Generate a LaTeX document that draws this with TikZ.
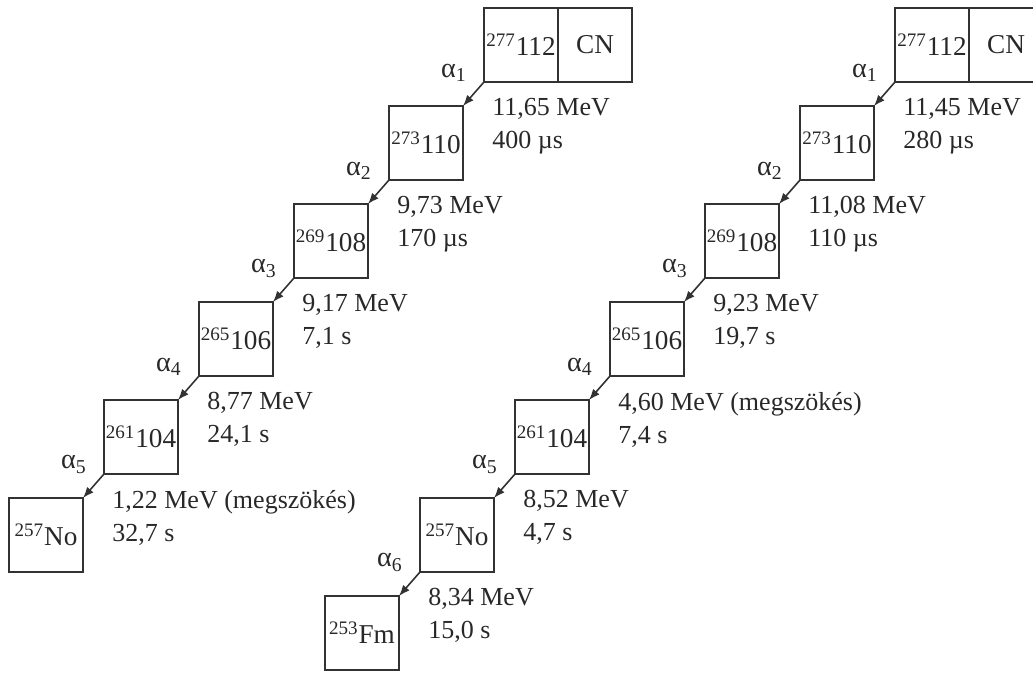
\documentclass[tikz,border=0pt]{standalone}
\usepackage{fontspec}
\setmainfont{Liberation Serif}
\usepackage{tikz}
\usetikzlibrary{arrows.meta,positioning}
\definecolor{decayGray}{RGB}{50,50,50}
\definecolor{labelGray}{RGB}{40,40,40}
\tikzset{
  nucbox/.style={draw=decayGray, line width=0.9pt, minimum size=1.48cm, inner sep=0pt,
                 outer sep=0pt, text=labelGray, font=\fontsize{15.5}{18}\selectfont},
  decaytext/.style={align=left, inner sep=0pt, text=labelGray, font=\fontsize{14.8}{18.8}\selectfont},
  alphalabel/.style={inner sep=0pt, text=labelGray, font=\fontsize{16}{18}\selectfont},
  decay/.style={-{Latex[length=2.2mm, width=1.7mm]}, line width=0.9pt, draw=decayGray}
}

\begin{document}
\begin{tikzpicture}[node distance=0.48cm and 0.42cm]
\useasboundingbox (0,0) rectangle (20.66,-13.44);
\clip (0,0) rectangle (20.66,-13.44);
% left chain
\node[nucbox, anchor=north west] (a1) at (9.68,-0.16) {\textsuperscript{277}112};
\node[nucbox, right=0pt of a1] (a1cn) {CN};
\node[nucbox, below left=of a1] (a2) {\textsuperscript{273}110};
\node[nucbox, below left=of a2] (a3) {\textsuperscript{269}108};
\node[nucbox, below left=of a3] (a4) {\textsuperscript{265}106};
\node[nucbox, below left=of a4] (a5) {\textsuperscript{261}104};
\node[nucbox, below left=of a5] (a6) {\textsuperscript{257}No};
\node[alphalabel, above left=0pt and 0.34cm of a1.south west] (la1) {α\textsubscript{1}};
\node[alphalabel, above left=0pt and 0.34cm of a2.south west] (la2) {α\textsubscript{2}};
\node[alphalabel, above left=0pt and 0.34cm of a3.south west] (la3) {α\textsubscript{3}};
\node[alphalabel, above left=0pt and 0.34cm of a4.south west] (la4) {α\textsubscript{4}};
\node[alphalabel, above left=0pt and 0.34cm of a5.south west] (la5) {α\textsubscript{5}};
\node[decaytext, below right=0.32cm and 0.16cm of a1.south west] (ea1) {11,65 MeV\\400 µs};
\node[decaytext, below right=0.32cm and 0.16cm of a2.south west] (ea2) {9,73 MeV\\170 µs};
\node[decaytext, below right=0.32cm and 0.16cm of a3.south west] (ea3) {9,17 MeV\\7,1 s};
\node[decaytext, below right=0.32cm and 0.16cm of a4.south west] (ea4) {8,77 MeV\\24,1 s};
\node[decaytext, below right=0.32cm and 0.16cm of a5.south west] (ea5) {1,22 MeV (megszökés)\\32,7 s};
\draw[decay] (a1.south west) -- (a2.north east);
\draw[decay] (a2.south west) -- (a3.north east);
\draw[decay] (a3.south west) -- (a4.north east);
\draw[decay] (a4.south west) -- (a5.north east);
\draw[decay] (a5.south west) -- (a6.north east);
% right chain
\node[nucbox, anchor=north west] (b1) at (17.90,-0.16) {\textsuperscript{277}112};
\node[nucbox, right=0pt of b1] (b1cn) {CN};
\node[nucbox, below left=of b1] (b2) {\textsuperscript{273}110};
\node[nucbox, below left=of b2] (b3) {\textsuperscript{269}108};
\node[nucbox, below left=of b3] (b4) {\textsuperscript{265}106};
\node[nucbox, below left=of b4] (b5) {\textsuperscript{261}104};
\node[nucbox, below left=of b5] (b6) {\textsuperscript{257}No};
\node[nucbox, below left=of b6] (b7) {\textsuperscript{253}Fm};
\node[alphalabel, above left=0pt and 0.34cm of b1.south west] (lb1) {α\textsubscript{1}};
\node[alphalabel, above left=0pt and 0.34cm of b2.south west] (lb2) {α\textsubscript{2}};
\node[alphalabel, above left=0pt and 0.34cm of b3.south west] (lb3) {α\textsubscript{3}};
\node[alphalabel, above left=0pt and 0.34cm of b4.south west] (lb4) {α\textsubscript{4}};
\node[alphalabel, above left=0pt and 0.34cm of b5.south west] (lb5) {α\textsubscript{5}};
\node[alphalabel, above left=0pt and 0.34cm of b6.south west] (lb6) {α\textsubscript{6}};
\node[decaytext, below right=0.32cm and 0.16cm of b1.south west] (eb1) {11,45 MeV\\280 µs};
\node[decaytext, below right=0.32cm and 0.16cm of b2.south west] (eb2) {11,08 MeV\\110 µs};
\node[decaytext, below right=0.32cm and 0.16cm of b3.south west] (eb3) {9,23 MeV\\19,7 s};
\node[decaytext, below right=0.32cm and 0.16cm of b4.south west] (eb4) {4,60 MeV (megszökés)\\7,4 s};
\node[decaytext, below right=0.32cm and 0.16cm of b5.south west] (eb5) {8,52 MeV\\4,7 s};
\node[decaytext, below right=0.32cm and 0.16cm of b6.south west] (eb6) {8,34 MeV\\15,0 s};
\draw[decay] (b1.south west) -- (b2.north east);
\draw[decay] (b2.south west) -- (b3.north east);
\draw[decay] (b3.south west) -- (b4.north east);
\draw[decay] (b4.south west) -- (b5.north east);
\draw[decay] (b5.south west) -- (b6.north east);
\draw[decay] (b6.south west) -- (b7.north east);
\end{tikzpicture}
\end{document}
